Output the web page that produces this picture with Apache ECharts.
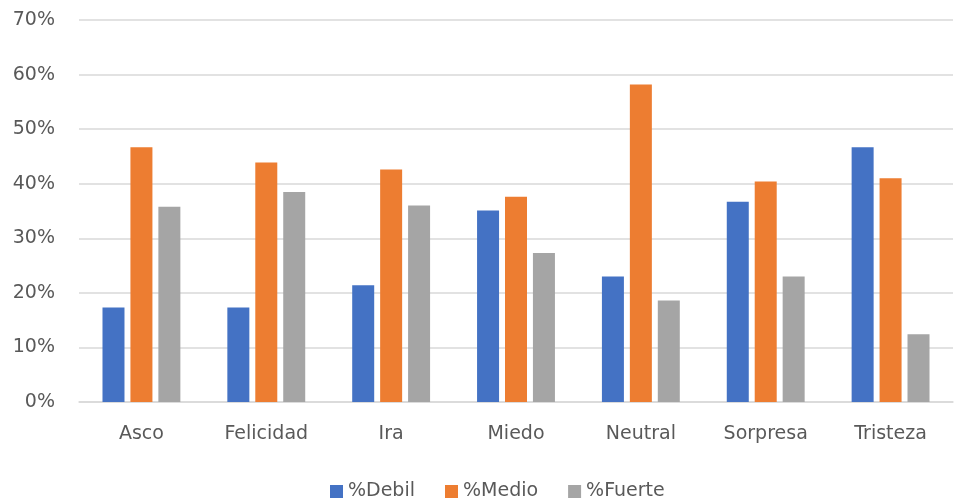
<!DOCTYPE html>
<html>
<head>
<meta charset="utf-8">
<script src="https://cdn.jsdelivr.net/npm/echarts@6/dist/echarts.min.js"></script>
<style>
html,body{margin:0;padding:0;background:#fff;}
#chart{width:954px;height:502px;}
</style>
</head>
<body>
<div id="chart"></div>
<script>
const categories = ['Asco','Felicidad','Ira','Miedo','Neutral','Sorpresa','Tristeza'];
const debil  = [17.3, 17.3, 21.4, 35.1, 23.0, 36.7, 46.7];
const medio  = [46.7, 43.9, 42.6, 37.6, 58.2, 40.4, 41.0];
const fuerte = [35.8, 38.5, 36.0, 27.3, 18.6, 23.0, 12.4];
const seriesNames = ['%Debil','%Medio','%Fuerte'];
const colors = ['#4472C4','#ED7D31','#A5A5A5'];

const font = '"DejaVu Sans", "Liberation Sans", sans-serif';
const chart = echarts.init(document.getElementById('chart'));
const mk = (name, data, i) => ({
  name, type: 'bar', data,
  barWidth: 22, barGap: '27%',
  itemStyle: { color: colors[i] }
});
chart.setOption({
  animation: false,
  grid: { left: 79, right: 1, top: 20, bottom: 100 },
  xAxis: {
    type: 'category', data: categories,
    axisLine: { show: true, lineStyle: { color: '#d9d9d9', width: 1.5 } },
    axisTick: { show: false },
    axisLabel: { color: '#595959', fontSize: 19, fontFamily: font, margin: 23 }
  },
  yAxis: {
    type: 'value', min: 0, max: 70, interval: 10,
    axisLine: { show: false }, axisTick: { show: false },
    splitLine: { lineStyle: { color: '#d9d9d9', width: 1.5 } },
    axisLabel: { color: '#595959', fontSize: 19, fontFamily: font, margin: 24, formatter: '{value}%' }
  },
  legend: {
    data: seriesNames, top: 477, left: 325,
    icon: 'rect', itemWidth: 13, itemHeight: 13, itemGap: 30,
    textStyle: { color: '#595959', fontSize: 19, fontFamily: font }
  },
  series: [mk(seriesNames[0], debil, 0), mk(seriesNames[1], medio, 1), mk(seriesNames[2], fuerte, 2)]
});
</script>
</body>
</html>
